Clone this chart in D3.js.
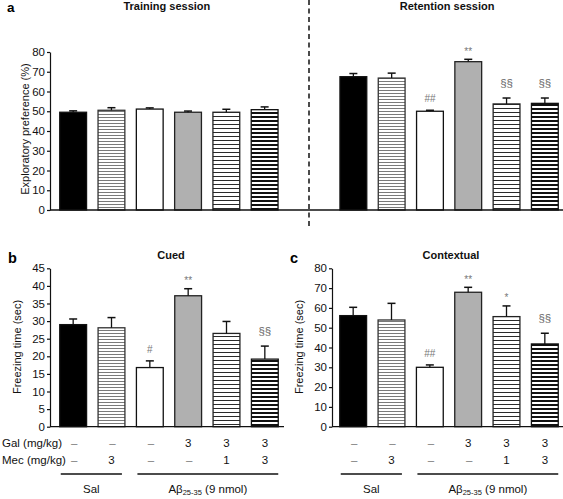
<!DOCTYPE html>
<html><head><meta charset="utf-8">
<script src="https://cdn.jsdelivr.net/npm/d3@7/dist/d3.min.js"></script>
<style>
body{margin:0;background:#fff;}
svg{display:block;font-family:"Liberation Sans",Arial,Helvetica,sans-serif;}
</style></head>
<body><svg id="c" width="563" height="499"></svg>
<script>
// ---------- data ----------
const groups = ["Sal", "Sal+Mec3", "Ab", "Ab+Gal3", "Ab+Gal3+Mec1", "Ab+Gal3+Mec3"];
const sessions = ["Training session", "Retention session"];
const trainingMean = [49.5, 50.5, 51.1, 49.5, 49.5, 50.8];
const trainingErr  = [0.7, 1.3, 0.6, 0.6, 1.5, 1.4];
const retentionMean = [67.5, 66.8, 50.0, 75.1, 53.7, 54.0];
const retentionErr  = [1.6, 2.5, 0.5, 1.2, 3.0, 2.7];
const retentionMarks = ["", "", "##", "**", "§§", "§§"];
const cuedMean = [29.0, 28.1, 16.8, 37.2, 26.5, 19.2];
const cuedErr  = [1.6, 2.9, 1.9, 2.0, 3.4, 3.7];
const cuedMarks = ["", "", "#", "**", "", "§§"];
const contextualMean = [56.1, 53.9, 30.0, 67.9, 55.6, 41.8];
const contextualErr  = [4.2, 8.4, 1.2, 2.5, 5.4, 5.4];
const contextualMarks = ["", "", "##", "**", "*", "§§"];
const galLabels = ["–", "–", "–", "3", "3", "3"];
const mecLabels = ["–", "3", "–", "–", "1", "3"];
const ticksA = [0, 10, 20, 30, 40, 50, 60, 70, 80];
const ticksB = [0, 5, 10, 15, 20, 25, 30, 35, 40, 45];
const ticksC = [0, 10, 20, 30, 40, 50, 60, 70, 80];

// ---------- setup ----------
const svg = d3.select("#c");
const FONT = 11;
const defs = svg.append("defs");
function stripe(id, period, thick, color) {
  const p = defs.append("pattern").attr("id", id).attr("patternUnits", "userSpaceOnUse")
    .attr("width", 8).attr("height", period);
  p.append("rect").attr("width", 8).attr("height", period).attr("fill", "#fff");
  p.append("rect").attr("y", 0).attr("width", 8).attr("height", thick).attr("fill", color);
}
stripe("pGray", 3, 1, "#7a7a7a");
stripe("pThin", 4, 1, "#2a2a2a");
stripe("pThick", 4, 2, "#111");
const fills = ["#000", "url(#pGray)", "#fff", "#b0b0b0", "url(#pThin)", "url(#pThick)"];
const strokes = ["#111", "#333", "#111", "#222", "#222", "#111"];

function innerBand(width) {
  return d3.scaleBand().domain(groups).range([0, width]).paddingInner(0.3).paddingOuter(0.15);
}
function markGap(m) { return m.startsWith("§") ? 11 : m.startsWith("#") ? 8 : 4.5; }

function drawBars(g, x0, xb, y, means, errs, marks) {
  const bw = xb.bandwidth();
  groups.forEach((grp, i) => {
    const x = x0 + xb(grp);
    const top = y(means[i]);
    g.append("rect").attr("x", x).attr("y", top).attr("width", bw).attr("height", y(0) - top)
      .attr("fill", fills[i]).attr("stroke", strokes[i]).attr("stroke-width", 1.3);
    const et = y(means[i] + errs[i]);
    const cx = x + bw / 2;
    g.append("line").attr("x1", cx).attr("x2", cx).attr("y1", top).attr("y2", et)
      .attr("stroke", "#111").attr("stroke-width", 1.3);
    g.append("line").attr("x1", cx - 4).attr("x2", cx + 4).attr("y1", et).attr("y2", et)
      .attr("stroke", "#111").attr("stroke-width", 1.5);
    if (marks && marks[i]) {
      const m = marks[i];
      g.append("text").attr("x", cx).attr("y", et - markGap(m)).attr("text-anchor", "middle")
        .attr("font-size", m.startsWith("§") ? 11.5 : 10).attr("fill", m.startsWith("§") ? "#666" : "#777").text(m);
    }
  });
}

function yAxis(g, xPos, y, ticks) {
  const ax = g.append("g").attr("transform", `translate(${xPos},0)`)
    .call(d3.axisLeft(y).tickValues(ticks).tickSize(3).tickSizeOuter(0).tickPadding(2));
  ax.selectAll("path,line").attr("stroke", "#111").attr("stroke-width", 1.2);
  ax.selectAll("text").attr("font-size", FONT + 0.5).attr("fill", "#111").attr("font-family", "Liberation Sans, Arial");
  return ax;
}

function yLabel(g, x, yc, txt) {
  g.append("text").attr("transform", `translate(${x},${yc}) rotate(-90)`).attr("text-anchor", "middle")
    .attr("font-size", FONT).attr("fill", "#111").text(txt);
}

// ---------- Panel a ----------
const gA = svg.append("g");
const yA = d3.scaleLinear().domain([0, 80]).range([210, 52]);
const xOuter = d3.scaleBand().domain(sessions).range([54, 564]).paddingInner(0.18).paddingOuter(0);
const xbA = innerBand(xOuter.bandwidth());
drawBars(gA, xOuter(sessions[0]), xbA, yA, trainingMean, trainingErr, null);
drawBars(gA, xOuter(sessions[1]), xbA, yA, retentionMean, retentionErr, retentionMarks);
yAxis(gA, 50, yA, ticksA);
gA.append("line").attr("x1", 50).attr("x2", 563).attr("y1", yA(0)).attr("y2", yA(0))
  .attr("stroke", "#111").attr("stroke-width", 1.3);
yLabel(gA, 29, 129, "Exploratory preference (%)");
sessions.forEach(s => {
  gA.append("text").attr("x", xOuter(s) + xOuter.bandwidth() / 2 - 2).attr("y", 10)
    .attr("text-anchor", "middle").attr("font-size", 11).attr("font-weight", "bold").attr("fill", "#111").text(s);
});
gA.append("text").attr("x", 7).attr("y", 12).attr("font-size", 13.5).attr("font-weight", "bold").text("a");
// dashed separator
const sepX = (xOuter(sessions[0]) + xOuter.bandwidth() + xOuter(sessions[1])) / 2;
gA.append("line").attr("x1", sepX).attr("x2", sepX).attr("y1", 0).attr("y2", 228)
  .attr("stroke", "#111").attr("stroke-width", 1.5).attr("stroke-dasharray", "5,3.5");

// ---------- Panels b & c ----------
function lowerPanel(axisX, barStart, yMax, ticks, means, errs, marks, title, letter, showRowTitles) {
  const g = svg.append("g");
  const y = d3.scaleLinear().domain([0, yMax]).range([426.7, 268.3]);
  const xb = innerBand(230);
  drawBars(g, barStart, xb, y, means, errs, marks);
  yAxis(g, axisX, y, ticks);
  g.append("line").attr("x1", axisX).attr("x2", Math.min(563, barStart + 230)).attr("y1", y(0)).attr("y2", y(0))
    .attr("stroke", "#111").attr("stroke-width", 1.3);
  yLabel(g, axisX - 29, 347, "Freezing time (sec)");
  g.append("text").attr("x", barStart + 117).attr("y", 259).attr("text-anchor", "middle")
    .attr("font-size", 11).attr("font-weight", "bold").attr("fill", "#111").text(title);
  g.append("text").attr("x", axisX - 42).attr("y", 263).attr("font-size", 14.5).attr("font-weight", "bold").text(letter);
  const bw = xb.bandwidth();
  groups.forEach((grp, i) => {
    const cx = barStart + xb(grp) + bw / 2;
    [[galLabels, 447], [mecLabels, 464]].forEach(([arr, yy]) => {
      const dash = arr[i] === "–";
      g.append("text").attr("x", cx + (dash ? 1 : 0)).attr("y", yy).attr("text-anchor", "middle")
        .attr("font-size", FONT + 0.5).attr("fill", dash ? "#777" : "#111").text(arr[i]);
    });
  });
  if (showRowTitles) {
    g.append("text").attr("x", 2).attr("y", 447).attr("font-size", FONT + 0.5).attr("fill", "#111").text("Gal (mg/kg)");
    g.append("text").attr("x", 2).attr("y", 464).attr("font-size", FONT + 0.5).attr("fill", "#111").text("Mec (mg/kg)");
  }
  // group underlines
  const sal0 = barStart + xb(groups[0]) + 1, sal1 = barStart + xb(groups[1]) + bw - 3;
  const ab0 = barStart + xb(groups[2]) + 1, ab1 = barStart + xb(groups[5]) + bw;
  [[sal0, sal1], [ab0, ab1]].forEach(([a, b]) => {
    g.append("line").attr("x1", a).attr("x2", b).attr("y1", 474).attr("y2", 474)
      .attr("stroke", "#111").attr("stroke-width", 1.4);
  });
  g.append("text").attr("x", (sal0 + sal1) / 2).attr("y", 493).attr("text-anchor", "middle")
    .attr("font-size", FONT + 0.5).attr("fill", "#111").text("Sal");
  const t = g.append("text").attr("x", (ab0 + ab1) / 2).attr("y", 493).attr("text-anchor", "middle")
    .attr("font-size", FONT + 0.5).attr("fill", "#111");
  t.append("tspan").text("Aβ");
  t.append("tspan").attr("font-size", 7.5).attr("dy", 2).text("25-35");
  t.append("tspan").attr("dy", -2).text(" (9 nmol)");
}
lowerPanel(50, 54, 45, ticksB, cuedMean, cuedErr, cuedMarks, "Cued", "b", true);
lowerPanel(332, 334, 80, ticksC, contextualMean, contextualErr, contextualMarks, "Contextual", "c", false);
</script>
</body></html>
